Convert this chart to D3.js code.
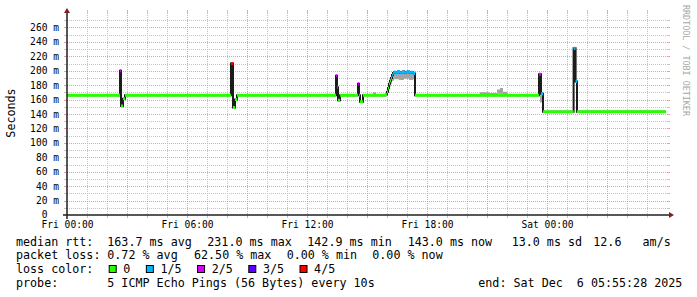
<!DOCTYPE html>
<html>
<head>
<meta charset="utf-8">
<script src="https://cdn.jsdelivr.net/npm/d3@7"></script>
<style>
  body { margin: 0; background: #fff; }
  svg text { font-family: "DejaVu Sans Mono", monospace; white-space: pre; }
</style>
</head>
<body>
<svg id="chart" width="697" height="297"></svg>
<script>
// median rtt: hours after Fri 00:00, value in ms, lost pings (of 5)
var medHour = [0, 2.65, 2.7, 2.8, 2.9, 8.2, 8.3, 8.4, 8.5,
  13.45, 13.5, 13.55, 13.65, 14.55, 14.6, 14.65, 14.8,
  15.95, 16.0, 16.05, 16.1, 16.15, 16.2, 16.25,
  16.3, 16.35, 16.4, 16.45, 16.5, 16.55, 16.6, 16.65, 16.7, 16.75, 16.8,
  16.85, 16.9, 16.95, 17.0, 17.05, 17.1, 17.15, 17.2, 17.25, 17.3, 17.35,
  17.4, 23.6, 23.7, 23.8, 25.33, 25.43, 25.5, 29.93];
var medRtt = [166, 200, 151, 161, 166, 210, 149, 160, 166,
  193, 177, 159, 166, 182, 166, 157, 166,
  167, 171, 176, 182, 186, 190, 194,
  197, 198, 198, 197, 198, 199, 198, 197, 198, 198, 199,
  198, 197, 198, 198, 199, 198, 197, 198, 198, 197, 196,
  166, 195, 168, 143, 231, 185, 143, 143];
var medLoss = [0, 2, 0, 0, 0, 4, 0, 0, 0,
  2, 2, 0, 0, 2, 1, 0, 0,
  0, 0, 0, 0, 0, 0, 1,
  1, 1, 1, 1, 1, 1, 1, 1, 1, 1, 1,
  1, 1, 1, 1, 1, 1, 1, 1, 1, 1, 1,
  0, 2, 1, 0, 1, 1, 0, 0];

// smoke (ping spread), null = no smoke
var smokeHour = [15.3, 15.45, 15.95, 16.0, 16.05, 16.1, 16.15, 16.2, 16.25, 16.35, 16.6, 16.85, 17.1, 17.3, 17.4,
  20.65, 21.1, 21.5, 21.65, 21.8, 22.0, 23.65, 23.75];
var smokeLo = [167, null, 167, 168, 170, 174, 178, 182, 186, 188, 187, 189, 187, 188, null,
  167, 167, 168, 168, 167, null, 156, null];
var smokeHi = [170, null, 171, 176, 182, 186, 190, 193, 196, 199, 199, 200, 199, 199, null,
  170, 169, 174, 176, 171, null, 166, null];

var yTicks = [0, 20, 40, 60, 80, 100, 120, 140, 160, 180, 200, 220, 240, 260];
var yTickLabels = ["0", "20 m", "40 m", "60 m", "80 m", "100 m", "120 m", "140 m", "160 m",
  "180 m", "200 m", "220 m", "240 m", "260 m"];
var xTickHours = [0, 6, 12, 18, 24];
var xTickLabels = ["Fri 00:00", "Fri 06:00", "Fri 12:00", "Fri 18:00", "Sat 00:00"];

var rttStats = ["163.7 ms avg", "231.0 ms max", "142.9 ms min", "143.0 ms now", "13.0 ms sd", "12.6   am/s"];
var lossStats = ["0.72 % avg", "62.50 % max", "0.00 % min", "0.00 % now"];
var lossLabels = ["0", "1/5", "2/5", "3/5", "4/5"];
var probeText = "5 ICMP Echo Pings (56 Bytes) every 10s";
var endText = "end: Sat Dec  6 05:55:28 2025";

var lossColors = ["#26ff00", "#00b8ff", "#d800ff", "#5e00ff", "#ff0000"];
var rttX = [107.3, 207.3, 307.3, 407.7, 511.7, 593.3];
var lossX = [107.3, 194, 286.7, 372.3];

var svg = d3.select("#chart").attr("xml:space", "preserve");

var x = d3.scaleLinear().domain([0, 30]).range([67, 667]);
var y = d3.scaleLinear().domain([0, 280]).range([215, 13]);

// grid: minor every 10 m / 1 h, major every 20 m / 3 h
var grid = svg.append("g").attr("shape-rendering", "crispEdges");
var hMinor = d3.range(10, 280, 20), hMajor = d3.range(20, 280, 20);
var vMinor = d3.range(1, 30).filter(function(h) { return h % 3; });
var vMajor = d3.range(3, 30, 3);

function hGrid(vals, col) {
  vals.forEach(function(v) {
    var yy = Math.round(y(v)) + 0.5;
    grid.append("line").attr("x1", 67).attr("x2", 667).attr("y1", yy).attr("y2", yy)
      .attr("stroke", col).attr("stroke-dasharray", "1,1");
    grid.append("line").attr("x1", 64).attr("x2", 67).attr("y1", yy).attr("y2", yy).attr("stroke", col);
    grid.append("line").attr("x1", 667).attr("x2", 670).attr("y1", yy).attr("y2", yy).attr("stroke", col);
  });
}
function vGrid(vals, col) {
  vals.forEach(function(h) {
    var xx = Math.round(x(h)) + 0.5;
    grid.append("line").attr("x1", xx).attr("x2", xx).attr("y1", 13).attr("y2", 215)
      .attr("stroke", col).attr("stroke-dasharray", "1,1");
    grid.append("line").attr("x1", xx).attr("x2", xx).attr("y1", 215).attr("y2", 218).attr("stroke", col);
    grid.append("line").attr("x1", xx).attr("x2", xx).attr("y1", 10).attr("y2", 13).attr("stroke", col);
  });
}
hGrid(hMinor, "#c4c4c4");
vGrid(vMinor, "#c4c4c4");
hGrid(hMajor, "#e8a0a0");
vGrid(vMajor, "#e8a0a0");

// smoke
var smoke = smokeHour.map(function(h, i) { return {h: h, lo: smokeLo[i], hi: smokeHi[i]}; });
var area = d3.area()
  .x(function(d) { return x(d.h); })
  .y0(function(d) { return y(d.lo); })
  .y1(function(d) { return y(d.hi); })
  .curve(d3.curveStepAfter);
// close each block at the next sample
var smokeBlocks = [], cur = [];
smoke.forEach(function(d) {
  if (d.lo === null) {
    if (cur.length) { cur.push({h: d.h, lo: cur[cur.length - 1].lo, hi: cur[cur.length - 1].hi}); smokeBlocks.push(cur); }
    cur = [];
  } else cur.push(d);
});
svg.append("g").selectAll("path").data(smokeBlocks).join("path")
  .attr("d", area).attr("fill", "#a4a4a4");

// median line
var med = medHour.map(function(h, i) { return {h: h, v: medRtt[i], loss: medLoss[i]}; });
var line = d3.line().x(function(d) { return x(d.h); }).y(function(d) { return y(d.v); })
  .curve(d3.curveStepAfter);
svg.append("path").datum(med).attr("d", line)
  .attr("fill", "none").attr("stroke", "#1c1c1c").attr("stroke-width", 2);
svg.append("g").selectAll("line").data(med.slice(0, -1)).join("line")
  .attr("x1", function(d) { return x(d.h); })
  .attr("x2", function(d, i) { return x(med[i + 1].h); })
  .attr("y1", function(d) { return y(d.v); })
  .attr("y2", function(d) { return y(d.v); })
  .attr("stroke", function(d) { return lossColors[d.loss]; })
  .attr("stroke-width", 3);

// axes
var yAxis = svg.append("g").attr("transform", "translate(67,0)")
  .call(d3.axisLeft(y).tickValues(yTicks).tickSize(0).tickPadding(8)
    .tickFormat(function(d, i) { return yTickLabels[i]; }));
yAxis.select(".domain").remove();
yAxis.selectAll("text").attr("font-family", null).attr("font-size", 9.6).attr("fill", "#000")
  .filter(function(d, i) { return yTickLabels[i].indexOf(" ") < 0; })
  .attr("x", -8 - 2 * 5.8).attr("dy", "0.25em");

var xAxis = svg.append("g").attr("transform", "translate(0,215)")
  .call(d3.axisBottom(x).tickValues(xTickHours).tickSize(0).tickPadding(6)
    .tickFormat(function(d, i) { return xTickLabels[i]; }));
xAxis.select(".domain").remove();
xAxis.selectAll("text").attr("font-family", null).attr("font-size", 9.6).attr("fill", "#000");

svg.append("line").attr("x1", 63).attr("x2", 670).attr("y1", 215).attr("y2", 215)
  .attr("stroke", "#1f1f1f").attr("stroke-width", 1.5);
svg.append("line").attr("x1", 67).attr("x2", 67).attr("y1", 219).attr("y2", 11)
  .attr("stroke", "#1f1f1f").attr("stroke-width", 1.5);
svg.append("path").attr("d", "M669,212L674,215L669,218Z").attr("fill", "#801f1f");
svg.append("path").attr("d", "M64,13L67,8L70,13Z").attr("fill", "#801f1f");

// titles
svg.append("text").attr("transform", "translate(15,113) rotate(-90)")
  .attr("text-anchor", "middle").attr("font-size", 11.7).text("Seconds");
svg.append("text").attr("transform", "translate(683.3,5) rotate(90)")
  .attr("font-size", 8.4).attr("fill", "#a8a8a8").text("RRDTOOL / TOBI OETIKER");

// legend
var leg = svg.append("g").attr("font-size", 11.7).attr("fill", "#000");
leg.append("text").attr("x", 16).attr("y", 245.5).text("median rtt:");
leg.append("g").selectAll("text").data(rttStats).join("text")
  .attr("x", function(d, i) { return rttX[i]; }).attr("y", 245.5).text(function(d) { return d; });
leg.append("text").attr("x", 16).attr("y", 259.3).text("packet loss:");
leg.append("g").selectAll("text").data(lossStats).join("text")
  .attr("x", function(d, i) { return lossX[i]; }).attr("y", 259.3).text(function(d) { return d; });
leg.append("text").attr("x", 16).attr("y", 273.2).text("loss color:");
var lx = 108.7;
lossLabels.forEach(function(lab, i) {
  leg.append("rect").attr("x", lx + 0.5).attr("y", 265.5).attr("width", 7).attr("height", 7)
    .attr("fill", lossColors[i]).attr("stroke", "#000").attr("stroke-width", 1);
  var t = leg.append("text").attr("x", lx + 14.6).attr("y", 273.2).text(lab);
  lx = lx + 14.6 + t.node().getComputedTextLength() + 15.5;
});
leg.append("text").attr("x", 16).attr("y", 287).text("probe:");
leg.append("text").attr("x", 107.3).attr("y", 287).text(probeText);
leg.append("text").attr("x", 478.3).attr("y", 287).text(endText);
</script>
</body>
</html>
